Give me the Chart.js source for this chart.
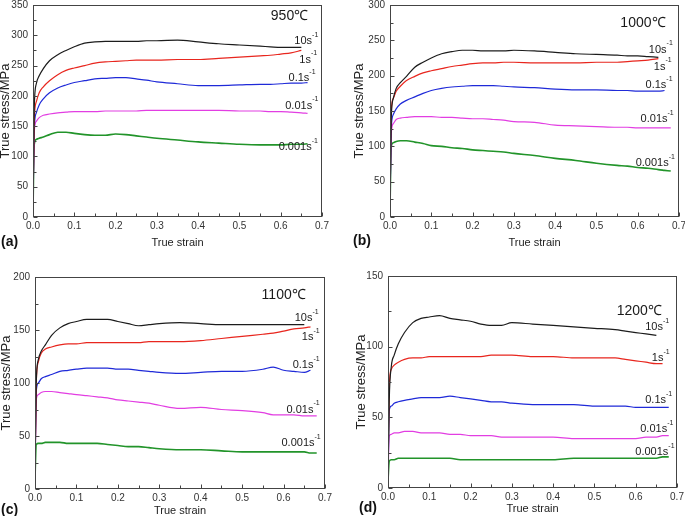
<!DOCTYPE html>
<html><head><meta charset="utf-8">
<script src="https://cdn.jsdelivr.net/npm/chart.js@4.4.0/dist/chart.umd.min.js"></script>
<style>
html,body{margin:0;padding:0;width:685px;height:516px;overflow:hidden;background:#fff;}
canvas{position:absolute;}
.plabel{position:absolute;font:bold 14px "Liberation Sans",Arial,sans-serif;color:#111;line-height:14px;}
</style></head><body>
<canvas id="cA" width="340" height="250" style="left:0;top:0"></canvas>
<canvas id="cB" width="345" height="250" style="left:340px;top:0"></canvas>
<canvas id="cC" width="340" height="268" style="left:0;top:250px"></canvas>
<canvas id="cD" width="345" height="268" style="left:340px;top:250px"></canvas>
<div class="plabel" style="left:1px;top:234px">(a)</div>
<div class="plabel" style="left:353px;top:233px">(b)</div>
<div class="plabel" style="left:1px;top:502px">(c)</div>
<div class="plabel" style="left:359px;top:500px">(d)</div>
<script>
// ---- data ----
const strain = [0, 0.003, 0.008, 0.015, 0.025, 0.04, 0.06, 0.08, 0.1, 0.125, 0.15, 0.175, 0.2, 0.225, 0.25, 0.275, 0.3, 0.35, 0.4, 0.45, 0.5, 0.55, 0.575, 0.6, 0.625, 0.65, 0.665, 0.68];
const rates = ['10', '1', '0.1', '0.01', '0.001'];
const temps = ['950℃', '1000℃', '1100℃', '1200℃'];

// 950 ℃
const s950_10   = [12,180,220,233,245,258,268,275,281,287,289,290,290,290,290,291,291,292,289,286,284,282,281,280,280,280,null,null];
const s950_1    = [12,160,190,205,215,225,235,242,246,250,254,256,257,258,259,259,259,260,260,262,264,266,267,269,271,275,null,null];
const s950_01   = [10,145,172,185,195,205,213,218,222,225,228,229,230,230,228,226,223,220,217,217,218,219,219,220,221,221,222,null];
const s950_001  = [10,140,158,164,168,170,172,173,174,174,174,175,175,175,175,176,176,176,176,176,175,175,174,174,173,172,171,null];
const s950_0001 = [10,120,128,130,132,136,140,140,138,136,135,135,137,136,134,132,130,127,124,122,120,119,119,119,120,120,121,null];
// 1000 ℃
const s1000_10   = [10,140,168,182,190,199,212,219,225,231,234,236,236,235,235,235,236,235,233,231,230,229,228,228,227,226,null,null];
const s1000_1    = [10,150,168,178,185,193,199,204,207,210,213,215,217,218,218,219,219,218,218,218,219,219,220,221,222,224,null,null];
const s1000_01   = [10,125,145,153,160,165,170,175,179,182,184,185,186,186,186,185,184,183,181,180,180,179,179,178,178,178,179,null];
const s1000_001  = [10,118,132,138,140,141,142,142,142,141,141,140,139,139,138,137,135,134,130,129,128,127,127,126,126,126,126,126];
const s1000_0001 = [10,100,105,107,108,108,106,104,101,100,98,97,95,94,93,92,90,87,83,80,76,73,72,70,69,67,66,65];
// 1100 ℃
const s1100_10   = [10,100,122,130,136,145,152,156,158,160,160,160,158,156,154,155,156,157,156,155,155,155,155,155,155,155,null,null];
const s1100_1    = [10,100,120,128,132,134,136,137,137,138,138,138,138,138,138,139,139,139,140,142,144,146,147,149,151,152,153,null];
const s1100_01   = [10,92,100,104,106,108,111,112,113,114,114,114,113,113,112,111,110,109,110,111,111,113,115,112,111,110,112,null];
const s1100_001  = [10,84,89,91,92,92,91,90,89,88,87,86,84,83,82,81,79,76,77,75,74,72,70,70,70,69,69,69];
const s1100_0001 = [10,42,43,43,44,44,44,43,43,43,43,42,41,40,40,39,38,37,37,36,35,35,35,35,35,35,34,34];
// 1200 ℃
const s1200_10   = [5,62,86,94,102,110,117,120,121,122,120,119,118,116,115,115,117,116,115,114,113,112,111,110,109,108,null,null];
const s1200_1    = [5,72,84,87,89,91,92,92,93,93,93,93,93,93,94,94,94,93,93,92,92,92,91,90,89,88,88,null];
const s1200_01   = [5,55,58,60,61,62,63,64,64,64,65,64,63,62,61,61,60,59,59,59,58,58,58,57,57,57,57,57];
const s1200_001  = [5,37,38,39,39,40,40,39,39,39,38,38,37,37,37,36,36,36,36,35,35,35,35,35,36,36,37,37];
const s1200_0001 = [5,19,20,20,21,21,21,21,21,21,21,20,20,20,20,20,20,20,20,21,21,21,21,21,21,21,22,22];

// y-axis maxima
const yMax = [350, 300, 200, 150];

// label anchor positions (strain, stress) for rate labels
const lab950  = [[0.633,290],[0.645,260],[0.619,229],[0.611,184],[0.595,116]];
const lab1000 = [[0.627,237],[0.639,213],[0.619,187],[0.607,139],[0.595,76]];
const lab1100 = [[0.627,161],[0.644,143],[0.622,117],[0.607,75],[0.595,43]];
const lab1200 = [[0.623,114],[0.639,92],[0.623,62],[0.611,42],[0.599,25.5]];
const tempPos = [[0.576,331],[0.558,275],[0.547,183],[0.554,125]];

// ---- styling ----
const colors = ['#1c1c1c', '#e8261e', '#1f2ad8', '#e23ee2', '#22942a'];
const FONT = '"Liberation Sans", Arial, sans-serif';
Chart.defaults.font.family = FONT;

const annot = {
  id: 'annot',
  afterDatasetsDraw(chart, args, o) {
    const {ctx, chartArea: a, scales: {x, y}} = chart;
    const L = Math.round(a.left) + 0.5, T = Math.round(a.top) + 0.5;
    const R = Math.round(a.right) - 0.5, B = Math.round(a.bottom) - 0.5;
    ctx.save();
    ctx.strokeStyle = '#444'; ctx.lineWidth = 1;
    ctx.strokeRect(L, T, R - L, B - T);
    // inward tick marks from the scales' own ticks
    ctx.beginPath();
    x.ticks.forEach(t => {
      const px = Math.round(x.getPixelForValue(t.value)) + 0.5;
      const len = t.label ? 4 : 3;
      ctx.moveTo(px, B); ctx.lineTo(px, B - len);
    });
    y.ticks.forEach(t => {
      const py = Math.round(y.getPixelForValue(t.value)) + 0.5;
      const len = t.label ? 4 : 3;
      ctx.moveTo(L, py); ctx.lineTo(L + len, py);
    });
    ctx.stroke();
    ctx.fillStyle = '#1a1a1a';
    ctx.textBaseline = 'middle'; ctx.textAlign = 'left';
    ctx.font = '14px ' + FONT;
    ctx.fillText(o.temp, x.getPixelForValue(o.tempAt[0]), y.getPixelForValue(o.tempAt[1]));
    rates.forEach((r, i) => {
      const px = x.getPixelForValue(o.labels[i][0]);
      const py = y.getPixelForValue(o.labels[i][1]);
      ctx.font = '11px ' + FONT;
      const base = r + 's';
      ctx.fillText(base, px, py);
      const w = ctx.measureText(base).width;
      ctx.font = '7px ' + FONT;
      ctx.fillText('-1', px + w, py - 6);
    });
    ctx.restore();
  }
};

function makeChart(id, series, ymax, labels, temp, tempAt, geo) {
  const datasets = series.map((s, i) => ({
    data: strain.map((e, k) => ({x: e, y: s[k]})),
    borderColor: colors[i],
    borderWidth: i === 4 ? 1.6 : 1.2,
    pointRadius: 0,
    cubicInterpolationMode: 'monotone',
    spanGaps: false
  }));
  return new Chart(document.getElementById(id), {
    type: 'line',
    data: {datasets},
    plugins: [annot],
    options: {
      responsive: false,
      animation: false,
      events: [],
      layout: {padding: {top: geo.top, right: geo.right, left: 0, bottom: 0}},
      plugins: {legend: {display: false}, tooltip: {enabled: false}, annot: {labels, temp, tempAt}},
      scales: {
        x: {
          type: 'linear', min: 0, max: 0.7,
          border: {display: false},
          grid: {display: false, drawOnChartArea: false, drawTicks: false},
          ticks: {stepSize: 0.05, autoSkip: false, maxRotation: 0, padding: 3, color: '#333',
                  font: {size: 10},
                  callback: v => Math.abs(v * 10 - Math.round(v * 10)) < 1e-6 ? v.toFixed(1) : ''},
          title: {display: true, text: 'True strain', color: '#222', font: {size: 11}, padding: {top: 0, bottom: geo.xtb}},
          afterFit: s => { s.height = geo.xh; s.paddingLeft = 0; s.paddingRight = 0; }
        },
        y: {
          min: 0, max: ymax,
          border: {display: false},
          grid: {display: false, drawOnChartArea: false, drawTicks: false},
          ticks: {stepSize: 25, autoSkip: false, padding: 5, color: '#333', font: {size: 10},
                  callback: v => v % 50 === 0 ? String(v) : ''},
          title: {display: true, text: 'True stress/MPa', color: '#222', font: {size: 13, lineHeight: 0.8}, padding: {top: geo.ytp, bottom: 0}},
          afterFit: s => { s.width = geo.yw; s.paddingTop = 0; s.paddingBottom = 0; }
        }
      }
    }
  });
}

makeChart('cA', [s950_10, s950_1, s950_01, s950_001, s950_0001], yMax[0], lab950, temps[0], tempPos[0],
  {top: 5, right: 18, yw: 33, xh: 33, xtb: 0, ytp: 0});
makeChart('cB', [s1000_10, s1000_1, s1000_01, s1000_001, s1000_0001], yMax[1], lab1000, temps[1], tempPos[1],
  {top: 5, right: 6, yw: 50, xh: 33, xtb: 0, ytp: 14.3});
makeChart('cC', [s1100_10, s1100_1, s1100_01, s1100_001, s1100_0001], yMax[2], lab1100, temps[2], tempPos[2],
  {top: 27, right: 15, yw: 35, xh: 29, xtb: 0, ytp: 0.8});
makeChart('cD', [s1200_10, s1200_1, s1200_01, s1200_001, s1200_0001], yMax[3], lab1200, temps[3], tempPos[3],
  {top: 26, right: 8, yw: 48, xh: 30, xtb: 2.4, ytp: 15.8});
</script>
</body></html>
